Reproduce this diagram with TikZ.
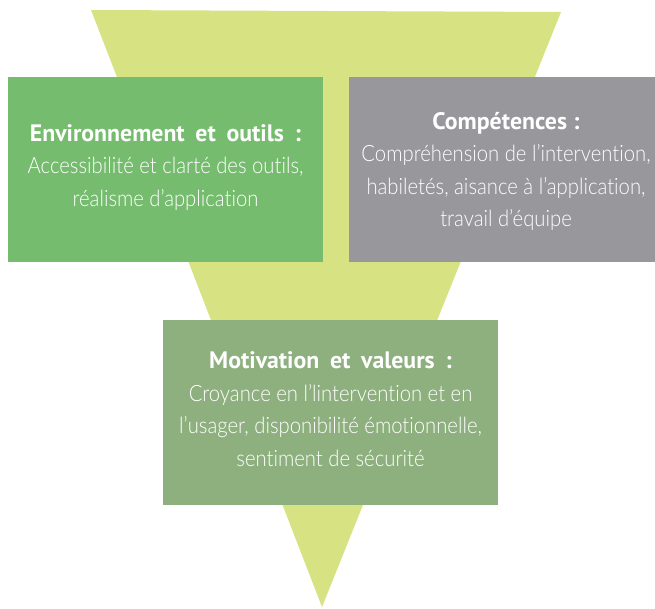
\documentclass[tikz,border=0pt]{standalone}
\usepackage{fontspec}
\setmainfont{Lato}
\newfontfamily\headfont[FakeStretch=1.0]{PT Sans}
\newfontfamily\bodyfont[FakeStretch=0.90,Ligatures=NoCommon]{Lato Light}
\definecolor{funnel}{HTML}{D7E383}
\definecolor{envgreen}{HTML}{76BC6F}
\definecolor{compgray}{HTML}{98989C}
\definecolor{motgreen}{HTML}{8EB07F}
\tikzset{
  panel/.style={draw=none, inner sep=0pt, text=white, align=center,
    font=\bodyfont\fontsize{22.5}{32.5}\selectfont},
}
\newcommand{\panelhead}[1]{{\headfont\bfseries\fontsize{23.8}{32.5}\selectfont #1}}
\newcommand{\wsp}{\hspace{0.45em}}
\begin{document}
\begin{tikzpicture}[x=1pt,y=-1pt]
  \useasboundingbox (0,0) rectangle (655,609);
  % inverted funnel behind the panels
  \fill[funnel] (91,10) -- (561,12) -- (322,607) -- cycle;
  % the three panels
  \fill[envgreen] (8,77) rectangle (323,262);
  \fill[compgray] (349,77) rectangle (655,262);
  \fill[motgreen] (163,320) rectangle (498,505);
  \node[panel] (env) at (165.5,167.5) {\panelhead{Environnement\wsp et\wsp outils\wsp:}\\
    Accessibilité et clarté des outils,\\ réalisme d’application};
  \node[panel] (comp) at (506,171.5) {\panelhead{Compétences :}\\
    Compréhension de l’intervention,\\ habiletés, aisance à l’application,\\ travail d’équipe};
  \node[panel] (mot) at (330.5,409) {\panelhead{Motivation\wsp et\wsp valeurs\wsp:}\\
    Croyance en l’lintervention et en\\ l’usager, disponibilité émotionnelle,\\ sentiment de sécurité};
\end{tikzpicture}
\end{document}
